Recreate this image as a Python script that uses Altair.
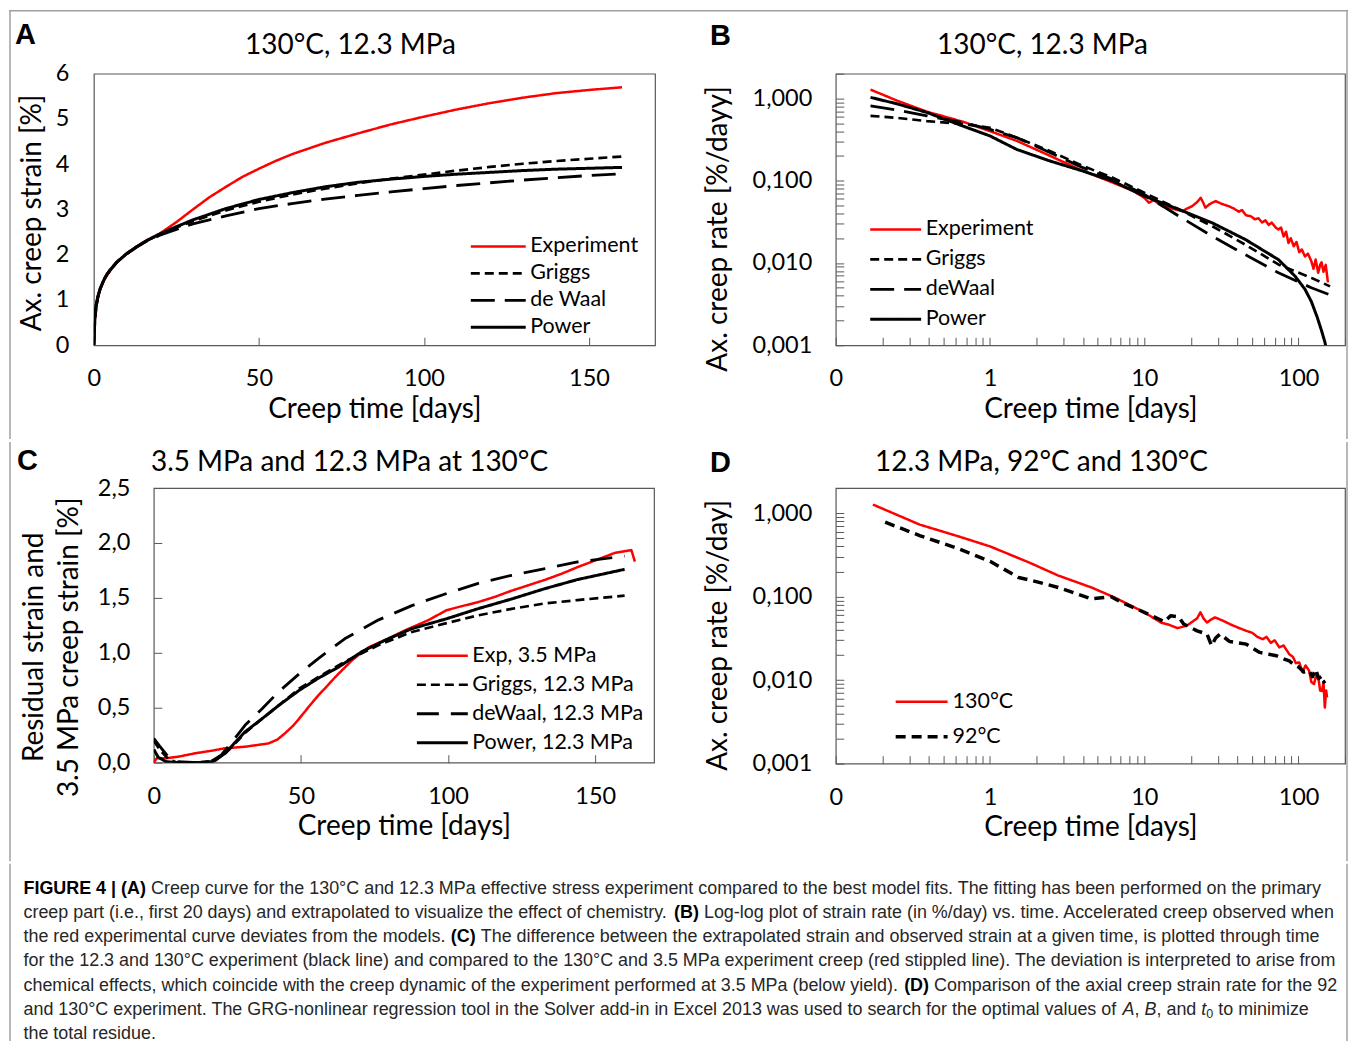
import altair as alt
import pandas as pd

# ------------------------------------------------------------------ data
# Panel A: axial creep strain [%] vs creep time [days]
A_SERIES = ["Experiment", "Griggs", "\u00a0de Waal", "Power"]
A_EXP_T = [0, 0.3, 0.7, 1.2, 2, 3, 4, 5, 7, 10, 13, 16, 20, 25, 30, 35, 40, 45, 50, 55, 60,
           70, 80, 90, 100, 110, 120, 130, 140, 150, 160]
A_EXP_V = [0, 0.55, 0.85, 1.05, 1.25, 1.42, 1.55, 1.65, 1.83, 2.02, 2.18, 2.32, 2.47, 2.72, 3.0,
           3.27, 3.5, 3.72, 3.9, 4.07, 4.22, 4.47, 4.68, 4.88, 5.05, 5.21, 5.35, 5.47, 5.57, 5.64, 5.70]
A_MOD_T = [0, 0.3, 0.7, 1.2, 2, 3, 4, 5, 7, 10, 13, 16, 20, 25, 30, 40, 50, 60, 70, 80, 90, 100,
           110, 120, 130, 140, 150, 160]
A_GRIGGS = [0, 0.5, 0.82, 1.04, 1.26, 1.44, 1.57, 1.67, 1.84, 2.03, 2.18, 2.31, 2.45, 2.6, 2.74,
            2.98, 3.17, 3.33, 3.46, 3.58, 3.68, 3.77, 3.86, 3.94, 4.01, 4.07, 4.12, 4.17]
A_DEWAAL = [0, 0.65, 0.9, 1.08, 1.28, 1.45, 1.57, 1.67, 1.84, 2.02, 2.17, 2.3, 2.43, 2.56, 2.68,
            2.86, 3.02, 3.13, 3.23, 3.31, 3.39, 3.46, 3.53, 3.59, 3.65, 3.7, 3.75, 3.79]
A_POWER = [0, 0.6, 0.88, 1.07, 1.27, 1.44, 1.57, 1.67, 1.84, 2.03, 2.18, 2.31, 2.46, 2.62, 2.77,
           3.02, 3.22, 3.37, 3.5, 3.6, 3.67, 3.73, 3.78, 3.82, 3.86, 3.89, 3.91, 3.93]

# Panel B: axial creep rate [%/day] vs creep time [days] (log-log)
B_SERIES = ["Experiment", "Griggs", "\u00a0deWaal", "Power"]
B_EXP_T = [0.168, 0.25, 0.39, 0.67, 1.0, 1.49, 2.32, 3.81, 6.24, 8.5, 10, 10.7, 11.5, 13.1, 15,
           17.7, 19, 20.4, 22, 23.2, 24, 24.9, 26.5, 29, 32, 35.3, 38, 41, 43, 45.6, 49, 52, 55,
           58, 61, 64, 67, 71, 74, 77, 80, 83, 86, 89, 93, 97, 101, 105, 110, 115, 121, 125, 129,
           134, 138, 141, 145, 150, 155]
B_EXP_V = [1.28, 0.94, 0.69, 0.52, 0.40, 0.305, 0.21, 0.137, 0.095, 0.075, 0.062, 0.054, 0.058,
           0.049, 0.046, 0.0427, 0.046, 0.049, 0.055, 0.062, 0.055, 0.047, 0.052, 0.0565, 0.052,
           0.049, 0.046, 0.042, 0.044, 0.038, 0.037, 0.034, 0.035, 0.031, 0.033, 0.029, 0.031,
           0.027, 0.0255, 0.027, 0.021, 0.024, 0.0175, 0.02, 0.016, 0.018, 0.0135, 0.0146, 0.012,
           0.013, 0.0105, 0.0085, 0.011, 0.0076, 0.0095, 0.0102, 0.0078, 0.0095, 0.0058]
B_MOD_T = [0.168, 0.25, 0.39, 0.67, 1.0, 1.49, 2.44, 4.0, 6.24, 10.0, 16.8, 27.6, 45.2, 74.0,
           121.0, 160.0]
B_GRIGGS = [0.615, 0.58, 0.53, 0.49, 0.44, 0.334, 0.23, 0.151, 0.109, 0.0714, 0.0447, 0.028,
            0.0167, 0.0096, 0.0066, 0.0052]
B_DEWAAL = [0.81, 0.72, 0.615, 0.51, 0.42, 0.334, 0.22, 0.144, 0.104, 0.0682, 0.037, 0.0211,
            0.0126, 0.0076, 0.005, 0.0041]
B_POW_T = [0.168, 0.25, 0.39, 0.67, 1.0, 1.49, 2.44, 4.0, 6.24, 10.0, 16.8, 27.6, 45.2, 74.0,
           95.0, 110.0, 121.0, 132.0, 141.0, 148.0, 156.0]
B_POWER = [1.03, 0.86, 0.675, 0.46, 0.35, 0.24, 0.174, 0.131, 0.099, 0.065, 0.0447, 0.0307,
           0.0193, 0.011, 0.0069, 0.0048, 0.0034, 0.0022, 0.0015, 0.0011, 0.0007]

# Panel C: residual strain / 3.5 MPa creep strain [%] vs creep time [days]
C_SERIES = ["Exp, 3.5 MPa", "Griggs, 12.3 MPa", "\u00a0deWaal, 12.3 MPa", "Power, 12.3 MPa"]
C_EXP_T = [0, 1, 4, 8.5, 14, 20, 24, 31, 39, 42, 44.7, 47.5, 50.3, 53, 56, 59, 61.7, 64.5, 67.3,
           70, 73, 78.6, 85.4, 93.3, 99.5, 104.6, 110, 116, 121, 127.3, 133, 138.6, 144, 149.9,
           156.7, 162.3, 163.5]
C_EXP_V = [0.0, 0.04, 0.04, 0.055, 0.085, 0.11, 0.13, 0.145, 0.175, 0.21, 0.27, 0.34, 0.43, 0.52,
           0.615, 0.70, 0.78, 0.855, 0.93, 0.99, 1.05, 1.115, 1.205, 1.297, 1.388, 1.424, 1.46,
           1.51, 1.56, 1.615, 1.665, 1.72, 1.78, 1.84, 1.91, 1.935, 1.83]
C_GRIGGS_T = [0, 2, 5, 8, 15, 21, 25.5, 31, 36.8, 42.4, 49.5, 56, 65, 76.4, 87.7, 99.5, 110, 121.6,
              133, 144, 160]
C_GRIGGS = [0.2, 0.12, 0.03, 0.0, 0.0, 0.02, 0.115, 0.27, 0.40, 0.52, 0.676, 0.78, 0.92, 1.07,
            1.19, 1.27, 1.34, 1.40, 1.45, 1.48, 1.52]
C_DEWAAL_T = [0, 2, 5, 8, 15, 20, 23, 26.6, 31, 36.8, 42.4, 49.5, 56, 65, 76.4, 87.7, 99.5, 110,
              121.6, 133, 144, 160]
C_DEWAAL = [0.22, 0.15, 0.05, 0.01, 0.0, 0.02, 0.07, 0.19, 0.34, 0.49, 0.645, 0.81, 0.95, 1.13,
            1.30, 1.43, 1.54, 1.63, 1.706, 1.767, 1.827, 1.88]
C_POWER_T = [0, 1.5, 4, 8, 15, 20, 24.3, 27.5, 31, 36.8, 42.4, 49.5, 56, 62.8, 70.7, 78.6, 87.7,
             99.5, 110, 121.6, 133, 144, 160]
C_POWER = [0.12, 0.05, 0.01, 0.0, 0.0, 0.01, 0.085, 0.18, 0.28, 0.40, 0.52, 0.66, 0.77, 0.87, 1.01,
           1.115, 1.22, 1.31, 1.40, 1.49, 1.585, 1.667, 1.76]

# Panel D: axial creep rate [%/day], 130 °C vs 92 °C
D_SERIES = ["130°C", "92°C"]
D_130_T = [0.174, 0.35, 0.63, 1.0, 1.78, 2.77, 4.54, 6.4, 10, 12.8, 14.5, 16.4, 18.9, 20.9, 22,
           23.1, 24.2, 25.5, 27, 28.7, 32, 35.8, 40, 45.8, 50, 54, 58.6, 62, 66, 70, 75, 80, 87,
           92, 96, 101, 106, 111, 117, 121, 126, 130, 135, 138, 142, 145, 148, 151, 153]
D_130_V = [1.27, 0.73, 0.525, 0.40, 0.258, 0.179, 0.129, 0.098, 0.065, 0.049, 0.046, 0.042, 0.045,
           0.0515, 0.055, 0.065, 0.055, 0.049, 0.053, 0.0565, 0.052, 0.047, 0.043, 0.039, 0.037,
           0.033, 0.031, 0.033, 0.028, 0.030, 0.0247, 0.026, 0.0205, 0.019, 0.016, 0.0163, 0.0125,
           0.015, 0.013, 0.0095, 0.009, 0.0115, 0.010, 0.0075, 0.0074, 0.0095, 0.0047, 0.0075,
           0.0062]
D_92_T = [0.209, 0.35, 0.63, 1.0, 1.53, 1.87, 2.77, 4.54, 6.1, 7.06, 10, 12.4, 13.5, 14.8, 16.7, 18,
          22, 25.5, 27.3, 29, 31, 35.8, 45.8, 56, 72, 80, 87, 95, 101, 108, 117, 123, 129, 135,
          142, 146, 149]
D_92_V = [0.78, 0.54, 0.373, 0.265, 0.17, 0.156, 0.129, 0.094, 0.1, 0.086, 0.065, 0.054, 0.050,
          0.059, 0.0575, 0.047, 0.039, 0.0356, 0.0258, 0.032, 0.0356, 0.029, 0.027, 0.0215, 0.0196,
          0.018, 0.017, 0.015, 0.0142, 0.0125, 0.013, 0.011, 0.0135, 0.0105, 0.0112, 0.0095, 0.0098]

# Text
TITLE_A = "130°C, 12.3 MPa"
TITLE_B = "130°C, 12.3 MPa"
TITLE_C = "3.5 MPa and 12.3 MPa at 130°C"
TITLE_D = "12.3 MPa, 92°C and 130°C"
XTITLE = "Creep time [days]"
YTITLE_A = "Ax. creep strain [%]"
YTITLE_B = "Ax. creep rate [%/dayy]"
YTITLE_C = ["Residual strain and", "3.5 MPa creep strain [%]"]
YTITLE_D = "Ax. creep rate [%/day]"
LIN_TICKS = [0, 50, 100, 150]
A_YTICKS = [0, 1, 2, 3, 4, 5, 6]
C_YTICKS = [0, 0.5, 1.0, 1.5, 2.0, 2.5]
X_LOG_TICKS = [m * 10 ** e for e in (-1, 0, 1, 2) for m in range(1, 10) if m * 10 ** e <= 200]
Y_LOG_TICKS = [m * 10 ** e for e in (-3, -2, -1, 0) for m in range(1, 10) if m * 10 ** e <= 2]
X_LOG_LABEL = ("datum.value == 0.1 ? '0' : datum.value == 1 ? '1' : datum.value == 10 ? '10' : "
               "datum.value == 100 ? '100' : ''")
Y_LOG_LABEL = ("datum.value == 1 ? '1,000' : datum.value == 0.1 ? '0,100' : "
               "datum.value == 0.01 ? '0,010' : datum.value == 0.001 ? '0,001' : ''")

CAPTION = [
    [("b", "FIGURE 4 | (A)"), ("n", " Creep curve for the 130°C and 12.3 MPa effective stress experiment "
     "compared to the best model fits. The fitting has been performed on the primary")],
    [("n", "creep part (i.e., first 20 days) and extrapolated to visualize the effect of chemistry. "),
     ("b", "(B)"), ("n", " Log-log plot of strain rate (in %/day) vs. time. Accelerated creep observed when")],
    [("n", "the red experimental curve deviates from the models. "), ("b", "(C)"),
     ("n", " The difference between the extrapolated strain and observed strain at a given time, is plotted through time")],
    [("n", "for the 12.3 and 130°C experiment (black line) and compared to the 130°C and 3.5 MPa experiment "
     "creep (red stippled line). The deviation is interpreted to arise from")],
    [("n", "chemical effects, which coincide with the creep dynamic of the experiment performed at 3.5 MPa "
     "(below yield). "), ("b", "(D)"), ("n", " Comparison of the axial creep strain rate for the 92")],
    [("n", "and 130°C experiment. The GRG-nonlinear regression tool in the Solver add-in in Excel 2013 was "
     "used to search for the optimal values of "), ("i", "A"), ("n", ", "), ("i", "B"), ("n", ", and "),
     ("i", "t"), ("s", "0"), ("n", " to minimize")],
    [("n", "the total residue.")],
]

# ------------------------------------------------------------------ style
FONT = "Lato"
INK = "#000000"
BOX = "#595959"
FRAME = "#a0a0a0"
RED = "#ff0000"
TICK_IN = {"expr": "-8"}
RIGHT_EDGE = 512          # figure frame's right edge, relative to the right-hand panels' origin
ROW1_TOP, ROW1_BOTTOM = -63, 365   # frame extent of the first row, relative to its plot tops


def long_df(groups):
    rows = []
    for name, ts, vs in groups:
        for i, (t, v) in enumerate(zip(ts, vs)):
            rows.append({"series": name, "t": t, "v": v, "i": i})
    return pd.DataFrame(rows)


def text_layer(text, x, y, size, weight="normal", font=FONT, align="center"):
    return alt.Chart(pd.DataFrame({"label": [text]})).mark_text(
        font=font, fontSize=size, fontWeight=weight, align=align, baseline="middle", color=INK
    ).encode(text="label:N", x=alt.value(x), y=alt.value(y))


def rule_layer(x1, y1, x2, y2):
    return alt.Chart(pd.DataFrame({"k": [0]})).mark_rule(
        color=FRAME, strokeWidth=1.5, strokeCap="square"
    ).encode(x=alt.value(x1), y=alt.value(y1), x2=alt.value(x2), y2=alt.value(y2))


def spacer():
    # 1x1 invisible cell that anchors every row at the figure frame's left edge
    return alt.Chart(pd.DataFrame({"k": [0]})).mark_point(size=1, strokeWidth=0, opacity=0).encode(
        x=alt.value(0.5), y=alt.value(0.5)
    ).properties(width=1, height=1, view=alt.ViewBackground(stroke="transparent"))


def legend(x, y, row_pad, sym_len):
    return alt.Legend(title=None, orient="none", legendX=x, legendY=y, symbolType="stroke",
                      symbolSize=sym_len ** 2, symbolStrokeWidth=3, clipHeight=22,
                      rowPadding=row_pad, labelFont=FONT, labelFontSize=21.5, labelColor=INK,
                      labelOffset=3, labelLimit=400, padding=0)


def line_layer(df, dom, colors, dashes, widths, xs, ys, xa, ya, leg):
    return alt.Chart(df).mark_line(clip=True, strokeJoin="round").encode(
        x=alt.X("t:Q", scale=xs, axis=xa),
        y=alt.Y("v:Q", scale=ys, axis=ya),
        color=alt.Color("series:N", scale=alt.Scale(domain=dom, range=colors), legend=leg),
        strokeDash=alt.StrokeDash("series:N", scale=alt.Scale(domain=dom, range=dashes), legend=leg),
        strokeWidth=alt.StrokeWidth("series:N", scale=alt.Scale(domain=dom, range=widths), legend=None),
        order=alt.Order("i:Q"),
        detail="series:N",
    )


X_LABEL_PAD = 41.5   # tick size (-8) + padding -> labels 33.5 px below the axis
X_TITLE_Y = 64


def x_lin_axis():
    return alt.Axis(values=LIN_TICKS, format="d", tickSize=TICK_IN, labelBaseline="middle",
                    labelPadding=X_LABEL_PAD, title=XTITLE, titleY=X_TITLE_Y, titleBaseline="middle")


def x_log_axis():
    return alt.Axis(values=X_LOG_TICKS, labelExpr=X_LOG_LABEL, tickSize=TICK_IN,
                    labelBaseline="middle", labelPadding=X_LABEL_PAD, title=XTITLE,
                    titleY=X_TITLE_Y, titleBaseline="middle")


def y_log_axis(title, ty):
    return alt.Axis(values=Y_LOG_TICKS, labelExpr=Y_LOG_LABEL, tickSize=TICK_IN, labelPadding=32,
                    title=title, titleX=-117, titleY=ty, titleAngle=270, titleBaseline="middle",
                    titleAlign="center")


MODEL_COLORS = [RED, INK, INK, INK]
MODEL_DASH = [[1, 0], [9, 5], [24, 10], [1, 0]]
MODEL_WIDTH = [2.5, 3, 4, 2.5]

# ------------------------------------------------------------------ panel A
A_W, A_H = 562, 272
dfA = long_df([(A_SERIES[0], A_EXP_T, A_EXP_V), (A_SERIES[1], A_MOD_T, A_GRIGGS),
               (A_SERIES[2], A_MOD_T, A_DEWAAL), (A_SERIES[3], A_MOD_T, A_POWER)])
panelA = alt.layer(
    line_layer(dfA, A_SERIES, MODEL_COLORS, MODEL_DASH, MODEL_WIDTH,
               alt.Scale(domain=[0, 170], nice=False, zero=False),
               alt.Scale(domain=[0, 6], nice=False),
               x_lin_axis(),
               alt.Axis(values=A_YTICKS, ticks=False, labelPadding=25, title=YTITLE_A, titleX=-61,
                        titleY=139, titleAngle=270, titleBaseline="middle", titleAlign="center"),
               legend(376, 162, 5, 55)),
    text_layer(TITLE_A, 257, -28, 28),
    text_layer("A", -79, -39, 29, weight="bold", font="Liberation Sans", align="left"),
    rule_layer(-84, ROW1_TOP, 743 + RIGHT_EDGE, ROW1_TOP),
    rule_layer(-84, ROW1_TOP, -84, ROW1_BOTTOM),
).properties(width=A_W, height=A_H)

# ------------------------------------------------------------------ panel B
B_W, B_H = 510, 272
dfB = long_df([(B_SERIES[0], B_EXP_T, B_EXP_V), (B_SERIES[1], B_MOD_T, B_GRIGGS),
               (B_SERIES[2], B_MOD_T, B_DEWAAL), (B_SERIES[3], B_POW_T, B_POWER)])
panelB = alt.layer(
    line_layer(dfB, B_SERIES, MODEL_COLORS, MODEL_DASH, MODEL_WIDTH,
               alt.Scale(type="log", domain=[0.1, 200], nice=False),
               alt.Scale(type="log", domain=[0.001, 2], nice=False),
               x_log_axis(), y_log_axis(YTITLE_B, 155),
               legend(33, 145, 8, 51)),
    text_layer(TITLE_B, 207, -28, 28),
    text_layer("B", -126, -38, 29, weight="bold", font="Liberation Sans", align="left"),
    rule_layer(RIGHT_EDGE, ROW1_TOP, RIGHT_EDGE, ROW1_BOTTOM),
).properties(width=B_W, height=B_H)

# ------------------------------------------------------------------ panel C
C_W, C_H = 501, 275
dfC = long_df([(C_SERIES[0], C_EXP_T, C_EXP_V), (C_SERIES[1], C_GRIGGS_T, C_GRIGGS),
               (C_SERIES[2], C_DEWAAL_T, C_DEWAAL), (C_SERIES[3], C_POWER_T, C_POWER)])
panelC = alt.layer(
    line_layer(dfC, C_SERIES, MODEL_COLORS, [[1, 0], [9, 5], [22, 12], [1, 0]], [2.5, 3, 4.5, 2.5],
               alt.Scale(domain=[0, 170], nice=False, zero=False),
               alt.Scale(domain=[0, 2.5], nice=False),
               x_lin_axis(),
               alt.Axis(values=C_YTICKS, labelExpr="replace(format(datum.value, '.1f'), '.', ',')",
                        tickSize=TICK_IN, labelPadding=32, title=YTITLE_C, titleX=-119, titleY=159,
                        titleAngle=270, titleBaseline="middle", titleAlign="center",
                        titleLineHeight=35),
               legend(262, 157, 7, 51)),
    text_layer(TITLE_C, 196, -25, 28),
    text_layer("C", -137, -27, 29, weight="bold", font="Liberation Sans", align="left"),
    rule_layer(-144, -45.5, -144, 373),
).properties(width=C_W, height=C_H)

# ------------------------------------------------------------------ panel D
D_W, D_H = 510, 276
dfD = long_df([(D_SERIES[0], D_130_T, D_130_V), (D_SERIES[1], D_92_T, D_92_V)])
panelD = alt.layer(
    line_layer(dfD, D_SERIES, [RED, INK], [[1, 0], [10, 6]], [2.5, 3.5],
               alt.Scale(type="log", domain=[0.1, 200], nice=False),
               alt.Scale(type="log", domain=[0.001, 2], nice=False),
               x_log_axis(), y_log_axis(YTITLE_D, 147),
               legend(58, 203, 13, 52)),
    text_layer(TITLE_D, 206, -25, 28),
    text_layer("D", -126, -25, 29, weight="bold", font="Liberation Sans", align="left"),
    rule_layer(RIGHT_EDGE, -45.5, RIGHT_EDGE, 373),
).properties(width=D_W, height=D_H)

# ------------------------------------------------------------------ caption
W_REG = {}
for chars, w in [(" !,./:;I[\\]ft", 278), ("'", 191), ("ijl", 222), ("()-`r", 333), ('"', 355),
                 ("*", 389), ("°", 400), ("^", 469), ("Jckvxyzs", 500),
                 ("#$0123456789?L_abdeghnopqu", 556), ("+<=>~", 584), ("FTZ", 611),
                 ("&ABEKPSVXY", 667), ("CDHNRUw", 722), ("GOQ", 778), ("Mm", 833), ("%", 889),
                 ("W", 944), ("@", 1015), ("|", 260), ("{}", 334)]:
    for c in chars:
        W_REG[c] = w
W_BOLD = dict(W_REG)
W_BOLD.update({"A": 722, "B": 722, "C": 722, "D": 722, "E": 667, "F": 611, "G": 778, "I": 278,
               "R": 722, "U": 722, "|": 280, "(": 333, ")": 333, " ": 278, "4": 556})


def em(txt, style):
    table = W_BOLD if style == "b" else W_REG
    scale = 0.7 if style == "s" else 1.0
    return scale * sum(table.get(c, 556) for c in txt) / 1000.0


CAP_W, CAP_H = 835 - 92 + 84 + RIGHT_EDGE, 176
CAP_X0, CAP_Y0, CAP_DY = 13.5, 24.25, 24.3
# one font size for the whole caption, so that its longest line fits the reference text width
fs = 1316 / max(sum(em(t, s) for s, t in segs) for segs in CAPTION)
cap_rows = []
for li, segs in enumerate(CAPTION):
    cx = 0.0
    for style, txt in segs:
        size = fs * 0.7 if style == "s" else fs
        lead = len(txt) - len(txt.lstrip(" "))
        cap_rows.append({"x": CAP_X0 + cx + lead * 0.278 * size,
                         "y": CAP_Y0 + li * CAP_DY + (4 if style == "s" else 0),
                         "text": txt.strip(" "), "style": style})
        cx += em(txt, style) * fs
cap_df = pd.DataFrame(cap_rows)


def cap_layer(style, **kw):
    return alt.Chart(cap_df[cap_df["style"] == style]).mark_text(
        font="Liberation Sans", align="left", baseline="middle", **kw
    ).encode(x=alt.X("x:Q", scale=None, axis=None), y=alt.Y("y:Q", scale=None, axis=None),
             text="text:N")


caption = alt.layer(
    cap_layer("n", fontSize=fs, color="#262626"),
    cap_layer("b", fontSize=fs, fontWeight="bold", color=INK),
    cap_layer("i", fontSize=fs, fontStyle="italic", color="#262626"),
    cap_layer("s", fontSize=fs * 0.7, color="#262626"),
    rule_layer(0, 0, 0, CAP_H),
    rule_layer(CAP_W, 0, CAP_W, CAP_H),
).properties(width=CAP_W, height=CAP_H, view=alt.ViewBackground(stroke="transparent"))

# ------------------------------------------------------------------ layout
IND = dict(color="independent", strokeDash="independent", strokeWidth="independent")
pairAB = alt.hconcat(panelA, panelB, spacing=181, bounds="flush").resolve_scale(**IND)
pairCD = alt.hconcat(panelC, panelD, spacing=182, bounds="flush").resolve_scale(**IND)
# every row starts with a 1-px spacer at the frame's left edge, so the rows line up there
row1 = alt.hconcat(spacer(), pairAB, spacing=83, bounds="flush").resolve_scale(**IND)
row2 = alt.hconcat(spacer(), pairCD, spacing=143, bounds="flush").resolve_scale(**IND)

chart = alt.vconcat(row1, row2, caption, spacing=0).resolve_scale(
    **IND
).properties(
    padding={"left": 0, "top": 0, "right": 0, "bottom": 0}, background="white"
).configure_view(
    stroke=BOX, strokeWidth=1.2
).configure_axis(
    labelFont=FONT, titleFont=FONT, labelFontSize=23.5, titleFontSize=28,
    titleFontWeight="normal", labelColor=INK, titleColor=INK, tickColor=BOX, tickWidth=1,
    domain=False, grid=False, labelFlush=False, labelOverlap=False,
)

chart.save("out.html", embed_options={"renderer": "svg", "actions": False})
